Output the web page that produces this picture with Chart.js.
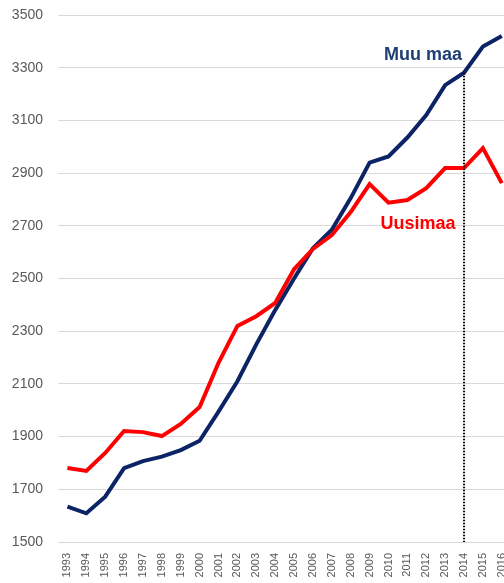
<!DOCTYPE html>
<html><head><meta charset="utf-8">
<script src="https://cdn.jsdelivr.net/npm/chart.js@4/dist/chart.umd.min.js"></script>
<style>
html,body{margin:0;padding:0;background:#fff;overflow:hidden;width:504px;height:583px;}
#wrap{width:518px;height:583px;position:relative;}
</style></head>
<body><div id="wrap"><canvas id="c" width="518" height="583"></canvas></div>
<script>
const years = ['1993','1994','1995','1996','1997','1998','1999','2000','2001','2002','2003','2004','2005','2006','2007','2008','2009','2010','2011','2012','2013','2014','2015','2016'];
const muuMaa = [1634,1609,1672,1780,1807,1824,1849,1884,1995,2110,2250,2380,2500,2615,2685,2805,2940,2963,3035,3120,3234,3281,3380,3420];
const uusimaa = [1781,1770,1838,1921,1917,1902,1948,2012,2180,2320,2357,2407,2535,2612,2665,2752,2858,2788,2798,2843,2919,2919,2995,2862];
const yTicks = {min:1500, max:3500, step:200};
const markerYear = '2014';

const extras = {
  id:'extras',
  afterDatasetsDraw(chart){
    const {ctx, scales:{x,y}, chartArea} = chart;
    const i = years.indexOf(markerYear);
    const px = x.getPixelForValue(i);
    const py = y.getPixelForValue(muuMaa[i]);
    ctx.save();
    ctx.strokeStyle = '#000';
    ctx.lineWidth = 2;
    ctx.setLineDash([1.5,1.5]);
    ctx.beginPath();
    ctx.moveTo(px, py);
    ctx.lineTo(px, chartArea.bottom);
    ctx.stroke();
    ctx.setLineDash([]);
    ctx.font = 'bold 18px "Liberation Sans", Arial, sans-serif';
    ctx.textAlign = 'center';
    ctx.textBaseline = 'middle';
    ctx.fillStyle = '#1F3F74';
    ctx.fillText('Muu maa', 423, 55);
    ctx.fillStyle = '#FF0000';
    ctx.fillText('Uusimaa', 418, 224);
    ctx.restore();
  }
};

new Chart(document.getElementById('c'), {
  type:'line',
  data:{
    labels: years,
    datasets:[
      {label:'Uusimaa', data:uusimaa, borderColor:'#FF0000', borderWidth:4, pointRadius:0, tension:0, fill:false},
      {label:'Muu maa', data:muuMaa, borderColor:'#0B2466', borderWidth:4, pointRadius:0, tension:0, fill:false}
    ]
  },
  options:{
    responsive:false,
    animation:false,
    layout:{padding:{top:15,left:0,right:0,bottom:0}},
    plugins:{legend:{display:false}, tooltip:{enabled:false}},
    scales:{
      x:{
        offset:true,
        grid:{display:false},
        border:{display:false},
        ticks:{color:'#595959', font:{family:'"Liberation Sans", Arial, sans-serif', size:11}, minRotation:90, maxRotation:90, autoSkip:false, padding:3},
        afterFit(s){ s.height = 41; }
      },
      y:{
        min:yTicks.min, max:yTicks.max,
        grid:{color:'#D9D9D9', lineWidth:1, drawTicks:false},
        border:{display:false},
        ticks:{stepSize:yTicks.step, color:'#595959', font:{family:'"Liberation Sans", Arial, sans-serif', size:14}, padding:15, callback:(v)=>String(v)},
        afterFit(s){ s.width = 58; s.paddingTop = 0; s.paddingBottom = 0; }
      }
    }
  },
  plugins:[extras]
});
</script>
</body></html>
